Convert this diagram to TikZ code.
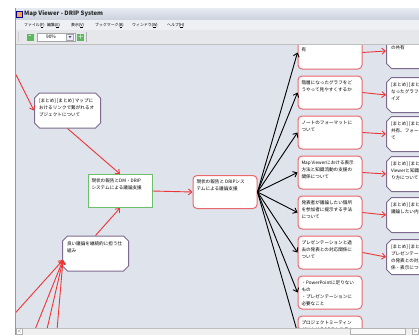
\documentclass[tikz,border=0pt]{standalone}
\usepackage{fontspec}
\newfontfamily\jp{Noto Sans CJK JP}
\usetikzlibrary{shapes.misc, arrows.meta, positioning}

\definecolor{canvas}{HTML}{DFE3EC}
\definecolor{linkred}{HTML}{EE3535}
\definecolor{noteedge}{HTML}{E8686C}
\definecolor{sumedge}{HTML}{7E6A8E}
\definecolor{rootedge}{HTML}{6CC06C}
\definecolor{barlight}{HTML}{EEF0F4}
\definecolor{bartop}{HTML}{E6EAF1}
\definecolor{barbot}{HTML}{CBD2DE}
\definecolor{frame}{HTML}{8F98AA}
\definecolor{btngreen}{HTML}{5CB85C}

\newcommand{\boxtxt}[1]{\parbox[c][24pt][t]{57pt}{\raggedright #1}}

\tikzset{
  note/.style={rectangle, draw=noteedge, fill=white, line width=1pt, rounded corners=4pt,
    minimum width=64pt, minimum height=33pt, inner xsep=3.5pt, inner ysep=4.5pt,
    font=\jp\fontsize{4.6}{7}\selectfont},
  summary/.style={note, chamfered rectangle, chamfered rectangle xsep=2.5pt,
    chamfered rectangle ysep=2.5pt, draw=sumedge, rounded corners=0pt,
    inner xsep=2pt, inner ysep=3pt},
  root/.style={note, draw=rootedge, rounded corners=0pt},
  redlink/.style={draw=linkred, line width=0.9pt, -{Straight Barb[length=3.5pt,width=6pt]}},
  blacklink/.style={draw=black, line width=0.9pt, -{Straight Barb[length=3.5pt,width=6pt]}},
  menu/.style={font=\jp\fontsize{3.9}{4}\selectfont, anchor=west, inner sep=0pt}
}

\begin{document}
\begin{tikzpicture}[x=1pt,y=-1pt]
  \useasboundingbox (0,0) rectangle (419,335);
  \fill[white] (0,0) rectangle (419,335);

  % map canvas
  \begin{scope}
    \clip (16,44) rectangle (419,328);
    \fill[canvas] (16,44) rectangle (419,328);

    \node[summary] (obj) at (67.5,110.5) {\boxtxt{[まとめ] [まとめ] マップに\\おけるリンクで繋がれるオ\\ブジェクトについて}};
    \node[root] (dm) at (120,191) {\boxtxt{現状の報告とDM・DRIP\\システムによる議論支援}};
    \node[note] (drip) at (225,192) {\boxtxt{現状の報告と DRIPシス\\テムによる議論支援}};
    \node[summary] (good) at (95.5,253.5) {\boxtxt{良い議論を継続的に担う仕\\組み}};

    \node[note] (share) at (330,52.5) {\boxtxt{議論で用いたグラフの共\\有}};
    \node[note] (layer) at (330,92.5) {\boxtxt{階層になったグラフをど\\うやって見やすくするか}};
    \node[note] (format) at (330,132.5) {\boxtxt{ノートのフォーマットに\\ついて}};
    \node[note] (viewer) at (330,172.5) {\boxtxt{Map Viewerにおける表示\\方法と知識流動の支援の\\関係について}};
    \node[note] (point) at (330,212.5) {\boxtxt{発表者が議論したい個所\\を参加者に提示する手法\\について}};
    \node[note] (past) at (330,252.5) {\boxtxt{プレゼンテーションと過\\去の発表との対応関係に\\ついて}};
    \node[note] (ppt) at (330,292.5) {\boxtxt{・PowerPointに足りない\\もの\\・プレゼンテーションに\\必要なこと}};
    \node[note] (meet) at (330,332.5) {\boxtxt{プロジェクトミーティン\\グにおけるDRIPシステム}};

    \node[summary, anchor=west] (s-share) at (386,51) {\boxtxt{[まとめ] [まとめ] 議論で\\の共有}};
    \node[summary, anchor=west] (s-layer) at (386,95) {\boxtxt{[まとめ] [まとめ] 階層に\\なったグラフのビジュアラ\\イズ}};
    \node[summary, anchor=west] (s-format) at (386,134) {\boxtxt{[まとめ] [まとめ] ノートの\\共有、フォーマットについ\\て}};
    \node[summary, anchor=west] (s-viewer) at (386,174) {\boxtxt{[まとめ] [まとめ] Map\\Viewerと知識流動の在\\り方について}};
    \node[summary, anchor=west] (s-point) at (386,215) {\boxtxt{[まとめ] [まとめ] 発表者が\\議論したい内容の提示}};
    \node[summary, anchor=west] (s-past) at (386,257) {\boxtxt{[まとめ] [まとめ]\\プレゼンテーションと過去\\の発表との対応関\\係・表示について}};

    % links outside the view
    \coordinate (up) at (0,43);
    \coordinate (in1) at (0,330);
    \coordinate (in2) at (30,342);
    \coordinate (in3) at (44,342);
    \coordinate (in4) at (56,342);
    \coordinate (goodin) at (63,260);

    \draw[redlink] (up) -- (obj.west);
    \draw[redlink] (obj.south) -- (dm.north);
    \draw[redlink] (good.north) -- (dm.south);
    \draw[redlink] (dm.east) -- (drip.west);
    \draw[redlink] (in1) -- (goodin);
    \draw[redlink] (in2) -- (goodin);
    \draw[redlink] (in3) -- (goodin);
    \draw[redlink] (in4) -- (goodin);

    \draw[blacklink] (drip.east) -- (share.west);
    \draw[blacklink] (drip.east) -- (layer.west);
    \draw[blacklink] (drip.east) -- (format.west);
    \draw[blacklink] (drip.east) -- (viewer.west);
    \draw[blacklink] (drip.east) -- (point.west);
    \draw[blacklink] (drip.east) -- (past.west);
    \draw[blacklink] (drip.east) -- (ppt.west);
    \draw[blacklink] (drip.east) -- (meet.west);

    \draw[redlink] (share.east) -- (s-share.west);
    \draw[redlink] (layer.east) -- (s-layer.west);
    \draw[redlink] (format.east) -- (s-format.west);
    \draw[redlink] (viewer.east) -- (s-viewer.west);
    \draw[redlink] (point.east) -- (s-point.west);
    \draw[redlink] (past.east) -- (s-past.west);
  \end{scope}

  % window frame, title, menu and tool bars
  \shade[top color=bartop, bottom color=barbot] (15,8) rectangle (419,20);
  \fill[barlight] (15,20) rectangle (419,30);
  \fill[barlight!92!gray] (15,30) rectangle (419,44);
  \draw[gray!50] (15,44) -- (419,44);
  \draw[frame, line width=1pt] (15,8) -- (15,335);

  \node[fill=orange!70, draw=blue!60!black, line width=0.4pt, minimum size=6pt, inner sep=0pt] (icon) at (19.5,14) {};
  \node[anchor=west, inner sep=0pt, font=\jp\bfseries\fontsize{6}{7}\selectfont, text=black!85] (title) at (24,14) {Map Viewer - DRIP System};

  \node[menu] (m-file) at (24,25.5) {ファイル(\underline{F})};
  \node[menu] (m-edit) at (47,25.5) {編集(\underline{E})};
  \node[menu] (m-view) at (71,25.5) {表示(\underline{V})};
  \node[menu] (m-mark) at (95,25.5) {ブックマーク(\underline{B})};
  \node[menu] (m-win) at (132,25.5) {ウィンドウ(\underline{W})};
  \node[menu] (m-help) at (167,25.5) {ヘルプ(\underline{H})};

  \foreach \y in {33,35,...,41} \fill[gray] (18.5,\y) circle (0.4pt);
  \node[fill=btngreen, minimum size=7pt, inner sep=0pt, font=\bfseries\fontsize{6}{6}\selectfont, text=white] (zoomout) at (30,37) {-};
  \node[draw=gray!70, fill=white, minimum width=38pt, minimum height=8pt, inner sep=0pt] (zoombox) at (56,37) {};
  \node[font=\jp\fontsize{4.8}{5}\selectfont, inner sep=0pt] (zoomval) at (51,37) {90\%};
  \node[draw=gray!70, fill=blue!8, minimum width=7pt, minimum height=6.5pt, inner sep=0pt] (zoomdrop) at (70,37) {};
  \fill[black!70] (68.5,36) -- (71.5,36) -- (70,38) -- cycle;
  \node[fill=btngreen, minimum size=7pt, inner sep=0pt, font=\bfseries\fontsize{6}{6}\selectfont, text=white] (zoomin) at (80.5,37) {+};
  \draw[gray!60] (86,32) -- (86,42);

  % scroll bar
  \fill[gray!12] (16,328) rectangle (419,335);
  \draw[gray!50] (16,328) -- (419,328);
  \node[draw=gray!60, fill=white, minimum width=6pt, minimum height=6pt, inner sep=0pt, font=\fontsize{4}{4}\selectfont] (left) at (19.5,331.5) {<};
  \node[draw=gray!60, fill=gray!5, minimum width=55pt, minimum height=6pt, inner sep=0pt] (thumb) at (377.5,331.5) {};
  \node[draw=gray!60, fill=white, minimum width=6pt, minimum height=6pt, inner sep=0pt, font=\fontsize{4}{4}\selectfont] (right) at (415.5,331.5) {>};
\end{tikzpicture}
\end{document}
